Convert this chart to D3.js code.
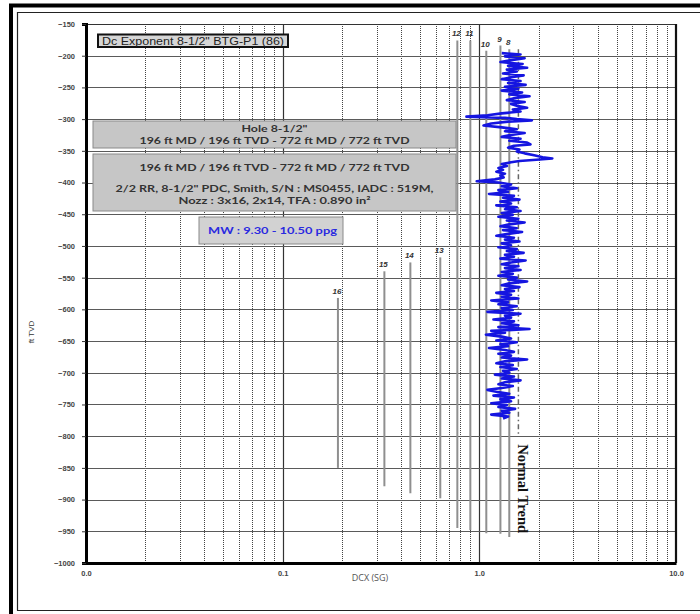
<!DOCTYPE html>
<html>
<head>
<meta charset="utf-8">
<script src="https://cdn.jsdelivr.net/npm/d3@7"></script>
<style>
  body { margin: 0; background: #fff; }
  svg { display: block; }
</style>
</head>
<body>
<svg id="chart" width="700" height="614"></svg>
<script>
// Depth axis (ft TVD, drawn negative downward) and DCX log axis
const depthTicks = [-150, -200, -250, -300, -350, -400, -450, -500, -550, -600,
                    -650, -700, -750, -800, -850, -900, -950, -1000];
const dcxTickValues = [0.01, 0.1, 1, 10];
const dcxTickLabels = ["0.0", "0.1", "1.0", "10.0"];

// Dc exponent log: depth (ft) and corrected DCX
const dcDepth = [
  -196, -198, -201, -204, -207, -210, -213, -216, -219, -222, -225, -228, -231, -234, -237,
  -240, -243, -246, -249, -252, -255, -258, -261, -264, -267, -270, -273, -276, -279, -282,
  -285, -288, -291, -294, -296, -298, -300, -302, -304, -307, -310, -313, -316, -319, -322,
  -325, -328, -331, -334, -337, -340, -342, -345, -348, -351, -354, -357, -360, -362, -364,
  -366, -368, -371, -374, -377, -380, -383, -386, -389, -392, -395, -398, -400, -403, -406,
  -409, -412, -415, -418, -421, -424, -427, -430, -433, -436, -439, -442, -445, -448, -451,
  -454, -457, -460, -463, -466, -469, -472, -475, -478, -481, -484, -487, -490, -493, -496,
  -499, -502, -505, -508, -511, -514, -517, -520, -523, -526, -529, -532, -535, -538, -541,
  -544, -547, -550, -553, -556, -559, -562, -565, -568, -571, -574, -577, -580, -583, -586,
  -589, -592, -595, -598, -601, -604, -607, -610, -613, -616, -619, -622, -625, -628, -631,
  -634, -637, -640, -643, -646, -649, -652, -655, -658, -661, -664, -667, -670, -673, -676,
  -679, -682, -685, -688, -691, -694, -697, -700, -703, -706, -709, -712, -715, -718, -721,
  -724, -727, -730, -733, -736, -739, -742, -745, -748, -751, -754, -757, -760, -763, -766,
  -769, -772
];
const dcValue = [
  1.30, 1.62, 1.35, 1.70, 1.45, 1.28, 1.66, 1.40, 1.75, 1.38, 1.55, 1.32, 1.68, 1.45, 1.30,
  1.62, 1.40, 1.72, 1.35, 1.58, 1.30, 1.65, 1.42, 1.80, 1.50, 1.38, 1.70, 1.45, 1.55, 1.75,
  1.48, 1.62, 1.30, 1.10, 0.86, 1.35, 1.55, 1.85, 1.40, 1.15, 1.05, 1.30, 1.55, 1.35, 1.70,
  1.45, 1.30, 1.62, 1.42, 1.75, 1.82, 1.50, 1.40, 1.60, 1.55, 1.70, 1.90, 2.10, 2.35, 1.95,
  1.60, 1.45, 1.30, 1.38, 1.25, 1.32, 1.22, 1.35, 1.28, 1.33, 1.20, 0.97, 1.25, 1.45, 1.30,
  1.55, 1.25, 1.40, 1.12, 1.50, 1.32, 1.60, 1.28, 1.45, 1.22, 1.55, 1.35, 1.62, 1.30, 1.48,
  1.25, 1.58, 1.38, 1.70, 1.42, 1.28, 1.55, 1.32, 1.65, 1.40, 1.22, 1.50, 1.35, 1.60, 1.30,
  1.45, 1.25, 1.55, 1.38, 1.68, 1.35, 1.50, 1.28, 1.72, 1.45, 1.30, 1.58, 1.35, 1.62, 1.30,
  1.48, 1.25, 1.55, 1.40, 1.75, 1.42, 1.30, 1.60, 1.35, 1.50, 1.22, 1.45, 1.30, 1.58, 1.15,
  1.40, 1.25, 1.55, 1.30, 1.48, 1.10, 1.62, 1.35, 1.45, 1.18, 1.50, 1.30, 1.58, 1.25, 1.80,
  1.15, 1.35, 1.08, 1.30, 1.45, 1.22, 1.55, 1.28, 1.40, 1.12, 1.35, 1.50, 1.25, 1.45, 1.30,
  1.75, 1.35, 1.22, 1.48, 1.28, 1.55, 1.32, 1.42, 1.20, 1.50, 1.30, 1.62, 1.35, 1.25, 1.48,
  1.30, 1.10, 1.22, 1.42, 1.18, 1.50, 1.28, 1.45, 1.15, 1.38, 1.25, 1.52, 1.30, 1.42, 1.15,
  1.40, 1.32
];

// Reference Dc lines (pore pressure gradients) with their depth extent
const isoLabels = ["8", "9", "10", "11", "12", "13", "14", "15", "16"];
const isoDcx    = [1.42, 1.28, 1.085, 0.90, 0.773, 0.633, 0.446, 0.329, 0.191];
const isoTop    = [-190, -184, -192, -176, -176, -518, -526, -540, -582];
const isoBottom = [-959, -954, -953, -948, -945, -898, -890, -879, -850];

// Normal compaction trend
const trendDcx = 1.58;
const trendTop = -190;
const trendBottom = -800;
const trendLabel = "Normal Trend";

// Annotation texts
const titleText = "Dc Exponent 8-1/2\" BTG-P1 (86)";
const holeLines = ["Hole 8-1/2\"", "196 ft MD / 196 ft TVD - 772 ft MD / 772 ft TVD"];
const bitLines = ["196 ft MD / 196 ft TVD - 772 ft MD / 772 ft TVD",
                  "2/2 RR, 8-1/2\" PDC, Smith, S/N : MS0455, IADC : 519M,",
                  "Nozz : 3x16, 2x14, TFA : 0.890 in\u00B2"];
const mudText = "MW : 9.30 - 10.50 ppg";
const xTitle = "DCX (SG)";
const yTitle = "ft TVD";

const svg = d3.select("#chart");
const plotLeft = 86, plotRight = 676, plotTop = 24, plotBottom = 563;

const x = d3.scaleLog().domain([0.01, 10]).range([plotLeft, plotRight]);
const y = d3.scaleLinear().domain([-1000, -150]).range([plotBottom, plotTop]);

// Outer page frame
svg.append("rect").attr("x", 0).attr("y", 0).attr("width", 700).attr("height", 614).attr("fill", "#fff");
svg.append("line").attr("x1", 9).attr("x2", 700).attr("y1", 5.5).attr("y2", 5.5)
  .attr("stroke", "#000").attr("stroke-width", 4);
svg.append("line").attr("x1", 11).attr("x2", 11).attr("y1", 4).attr("y2", 614)
  .attr("stroke", "#000").attr("stroke-width", 4);
svg.append("line").attr("x1", 17).attr("x2", 700).attr("y1", 12.5).attr("y2", 12.5)
  .attr("stroke", "#222").attr("stroke-width", 1.2);
svg.append("line").attr("x1", 17.5).attr("x2", 17.5).attr("y1", 12).attr("y2", 610.5)
  .attr("stroke", "#222").attr("stroke-width", 1.2);
svg.append("line").attr("x1", 17).attr("x2", 700).attr("y1", 610.5).attr("y2", 610.5)
  .attr("stroke", "#222").attr("stroke-width", 1.2);

// Grid
const grid = svg.append("g");
const minorTicks = [];
[0.01, 0.1, 1].forEach(d => { for (let k = 2; k <= 9; k++) minorTicks.push(d * k); });
grid.selectAll("line.minor").data(minorTicks).join("line")
  .attr("class", "minor")
  .attr("x1", d => Math.round(x(d)) + 0.5).attr("x2", d => Math.round(x(d)) + 0.5)
  .attr("y1", plotTop).attr("y2", plotBottom)
  .attr("stroke", "#444").attr("stroke-width", 1).attr("stroke-dasharray", "1,1");
grid.selectAll("line.major").data([0.1, 1]).join("line")
  .attr("class", "major")
  .attr("x1", d => Math.round(x(d)) + 0.5).attr("x2", d => Math.round(x(d)) + 0.5)
  .attr("y1", plotTop).attr("y2", plotBottom)
  .attr("stroke", "#333").attr("stroke-width", 1.2);
grid.selectAll("line.h").data(depthTicks.filter(d => d > -1000 && d < -150)).join("line")
  .attr("class", "h")
  .attr("x1", plotLeft).attr("x2", plotRight)
  .attr("y1", d => Math.round(y(d)) + 0.5).attr("y2", d => Math.round(y(d)) + 0.5)
  .attr("stroke", "#5a5a5a").attr("stroke-width", 1);

// Plot borders
svg.append("line").attr("x1", plotLeft).attr("x2", plotRight).attr("y1", plotTop + 0.5).attr("y2", plotTop + 0.5)
  .attr("stroke", "#333").attr("stroke-width", 1.2);
svg.append("line").attr("x1", plotRight).attr("x2", plotRight).attr("y1", plotTop).attr("y2", plotBottom)
  .attr("stroke", "#111").attr("stroke-width", 2.2);

// Annotation boxes
const boxFont = "Lato, 'Open Sans', Arial, sans-serif";
const title = svg.append("g");
title.append("rect").attr("x", 98).attr("y", 34.5).attr("width", 190).attr("height", 12.5)
  .attr("fill", "#d6d6d6").attr("stroke", "#111").attr("stroke-width", 2);
title.append("text").attr("x", 193).attr("y", 44.5).attr("text-anchor", "middle")
  .attr("font-family", "Arial, 'Liberation Sans', sans-serif").attr("font-size", 10.5)
  .attr("fill", "#222").attr("textLength", 182).attr("lengthAdjust", "spacingAndGlyphs")
  .text(titleText);

function boxText(g, lines, ys, widths, color) {
  g.selectAll("text").data(lines).join("text")
    .attr("x", 274.5).attr("y", (d, i) => ys[i]).attr("text-anchor", "middle")
    .attr("font-family", boxFont).attr("font-weight", "bold").attr("font-size", 9.5)
    .attr("fill", color)
    .attr("textLength", (d, i) => widths[i]).attr("lengthAdjust", "spacingAndGlyphs")
    .text(d => d);
}

const hole = svg.append("g");
hole.append("rect").attr("x", 93).attr("y", 121).attr("width", 363).attr("height", 27)
  .attr("fill", "#c6c6c6").attr("stroke", "#8a8a8a").attr("stroke-width", 1);
boxText(hole, holeLines, [132, 144], [66, 270], "#333");

const bit = svg.append("g");
bit.append("rect").attr("x", 93).attr("y", 154).attr("width", 363).attr("height", 57)
  .attr("fill", "#c6c6c6").attr("stroke", "#8a8a8a").attr("stroke-width", 1);
boxText(bit, bitLines, [170.5, 192, 204], [270, 318, 192], "#333");

const mud = svg.append("g");
mud.append("rect").attr("x", 199).attr("y", 217).attr("width", 144).attr("height", 27)
  .attr("fill", "#d2d2d2").attr("stroke", "#8a8a8a").attr("stroke-width", 1);
mud.append("text").attr("x", 272.5).attr("y", 234).attr("text-anchor", "middle")
  .attr("font-family", boxFont).attr("font-weight", "bold").attr("font-size", 10)
  .attr("fill", "#2a2ae0").attr("textLength", 129).attr("lengthAdjust", "spacingAndGlyphs")
  .text(mudText);

// Reference Dc lines
const iso = svg.append("g");
isoLabels.forEach((lab, i) => {
  const xi = x(isoDcx[i]);
  iso.append("line").attr("x1", xi).attr("x2", xi)
    .attr("y1", y(isoTop[i])).attr("y2", y(isoBottom[i]))
    .attr("stroke", "#8f8f8f").attr("stroke-width", 2);
  iso.append("text").attr("x", xi - 1).attr("y", y(isoTop[i]) - 4)
    .attr("text-anchor", "middle")
    .attr("font-family", "Arial, 'Liberation Sans', sans-serif")
    .attr("font-style", "italic").attr("font-weight", "bold").attr("font-size", 8)
    .attr("fill", "#333").text(lab);
});

// Normal trend line and its label
svg.append("line").attr("x1", x(trendDcx)).attr("x2", x(trendDcx))
  .attr("y1", y(trendTop)).attr("y2", y(trendBottom))
  .attr("stroke", "#666").attr("stroke-width", 1.5).attr("stroke-dasharray", "5,3,1.5,3");
svg.append("text")
  .attr("transform", `translate(${x(trendDcx) - 0.5},${y(trendBottom) + 8}) rotate(90)`)
  .attr("font-family", "'Liberation Serif', 'Times New Roman', serif")
  .attr("font-weight", "bold").attr("font-size", 15).attr("fill", "#111")
  .attr("textLength", 89).attr("lengthAdjust", "spacingAndGlyphs")
  .text(trendLabel);

// Dc exponent trace
const dcPoints = dcDepth.map((d, i) => [dcValue[i], d]);
svg.append("path").datum(dcPoints)
  .attr("fill", "none").attr("stroke", "#1515e0").attr("stroke-width", 2.6)
  .attr("stroke-linejoin", "round")
  .attr("d", d3.line().x(d => x(d[0])).y(d => y(d[1])));

// Axes
const yAxis = svg.append("g").attr("transform", `translate(${plotLeft},0)`)
  .call(d3.axisLeft(y).tickValues(depthTicks).tickSize(4).tickPadding(7).tickFormat(d3.format("d")));
yAxis.select(".domain").attr("stroke", "#000").attr("stroke-width", 3);
yAxis.selectAll(".tick line").attr("stroke", "#333");
yAxis.selectAll(".tick text").attr("font-family", "Arial, 'Liberation Sans', sans-serif")
  .attr("font-weight", "bold").attr("font-size", 7.5).attr("fill", "#444");

const xAxis = svg.append("g").attr("transform", `translate(0,${plotBottom})`)
  .call(d3.axisBottom(x).tickValues(dcxTickValues).tickSize(0).tickPadding(8)
    .tickFormat((d, i) => dcxTickLabels[i]));
xAxis.select(".domain").attr("stroke", "#000").attr("stroke-width", 3);
xAxis.selectAll(".tick text").attr("font-family", "Arial, 'Liberation Sans', sans-serif")
  .attr("font-weight", "bold").attr("font-size", 7.5).attr("fill", "#444");

svg.append("text").attr("x", 370).attr("y", 581).attr("text-anchor", "middle")
  .attr("font-family", "'Open Sans', Arial, sans-serif").attr("font-size", 9)
  .attr("fill", "#555").text(xTitle);
svg.append("text").attr("transform", "translate(34,332) rotate(-90)").attr("text-anchor", "middle")
  .attr("font-family", "Arial, 'Liberation Sans', sans-serif").attr("font-size", 8)
  .attr("fill", "#333").text(yTitle);
</script>
</body>
</html>
